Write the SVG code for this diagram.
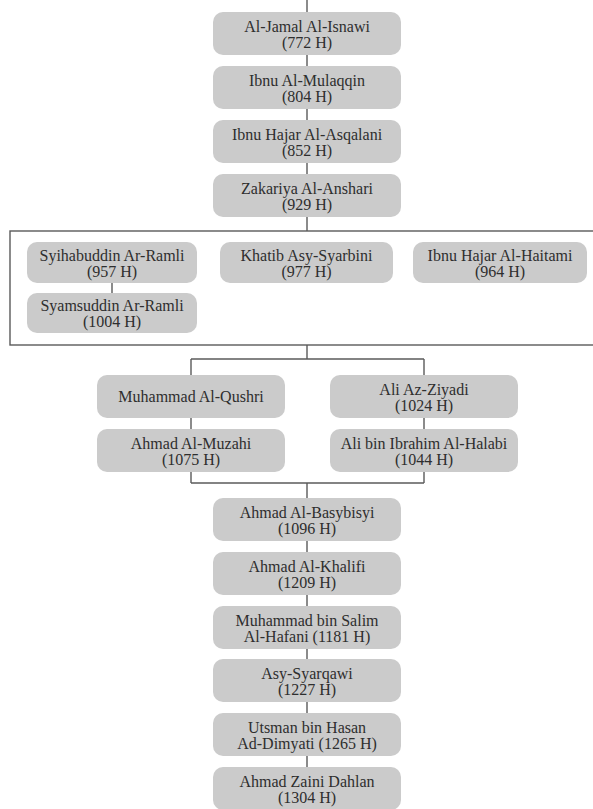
<svg xmlns="http://www.w3.org/2000/svg" width="593" height="809" viewBox="0 0 593 809">
<style>
.n rect{fill:#cbcbcb;stroke:none}
.n text{font-family:"Liberation Serif","Times New Roman",serif;font-size:16px;fill:#2e2e2e;text-anchor:middle}
.c line,.c rect{stroke:#5a5a5a;stroke-width:1.4;fill:none}
</style>
<rect x="0" y="0" width="593" height="809" fill="#ffffff"/>
<g class="c" id="connectors">
<line x1="307" y1="0" x2="307" y2="12"/>
<line x1="307" y1="55" x2="307" y2="66"/>
<line x1="307" y1="109" x2="307" y2="120"/>
<line x1="307" y1="163" x2="307" y2="174"/>
<line x1="307" y1="217" x2="307" y2="231"/>
<rect x="10" y="231" width="600" height="114"/>
<line x1="112" y1="283" x2="112" y2="293"/>
<line x1="307" y1="345" x2="307" y2="359"/>
<line x1="191" y1="359" x2="424" y2="359"/>
<line x1="191" y1="359" x2="191" y2="375"/>
<line x1="424" y1="359" x2="424" y2="375"/>
<line x1="191" y1="418" x2="191" y2="429"/>
<line x1="424" y1="418" x2="424" y2="429"/>
<line x1="191" y1="472" x2="191" y2="483"/>
<line x1="424" y1="472" x2="424" y2="483"/>
<line x1="191" y1="483" x2="424" y2="483"/>
<line x1="307" y1="483" x2="307" y2="498"/>
<line x1="307" y1="541" x2="307" y2="552"/>
<line x1="307" y1="595" x2="307" y2="606"/>
<line x1="307" y1="649" x2="307" y2="659"/>
<line x1="307" y1="702" x2="307" y2="713"/>
<line x1="307" y1="756" x2="307" y2="767"/>
</g>
<g class="n" id="n1"><rect x="213" y="12" width="188" height="43" rx="10"/><text x="307" y="32">Al-Jamal Al-Isnawi<tspan x="307" dy="15.5">(772 H)</tspan></text></g>
<g class="n" id="n2"><rect x="213" y="66" width="188" height="43" rx="10"/><text x="307" y="86">Ibnu Al-Mulaqqin<tspan x="307" dy="15.5">(804 H)</tspan></text></g>
<g class="n" id="n3"><rect x="213" y="120" width="188" height="43" rx="10"/><text x="307" y="140">Ibnu Hajar Al-Asqalani<tspan x="307" dy="15.5">(852 H)</tspan></text></g>
<g class="n" id="n4"><rect x="213" y="174" width="188" height="43" rx="10"/><text x="307" y="194">Zakariya Al-Anshari<tspan x="307" dy="15.5">(929 H)</tspan></text></g>
<g class="n" id="n5"><rect x="27" y="242" width="170" height="41" rx="10"/><text x="112" y="261">Syihabuddin Ar-Ramli<tspan x="112" dy="15.5">(957 H)</tspan></text></g>
<g class="n" id="n6"><rect x="220" y="242" width="173" height="41" rx="10"/><text x="306.5" y="261">Khatib Asy-Syarbini<tspan x="306.5" dy="15.5">(977 H)</tspan></text></g>
<g class="n" id="n7"><rect x="413" y="242" width="174" height="41" rx="10"/><text x="500" y="261">Ibnu Hajar Al-Haitami<tspan x="500" dy="15.5">(964 H)</tspan></text></g>
<g class="n" id="n8"><rect x="27" y="293" width="170" height="40" rx="10"/><text x="112" y="311">Syamsuddin Ar-Ramli<tspan x="112" dy="15.5">(1004 H)</tspan></text></g>
<g class="n" id="n9"><rect x="97" y="375" width="188" height="43" rx="10"/><text x="191" y="402">Muhammad Al-Qushri</text></g>
<g class="n" id="n10"><rect x="330" y="375" width="188" height="43" rx="10"/><text x="424" y="395">Ali Az-Ziyadi<tspan x="424" dy="15.5">(1024 H)</tspan></text></g>
<g class="n" id="n11"><rect x="97" y="429" width="188" height="43" rx="10"/><text x="191" y="449">Ahmad Al-Muzahi<tspan x="191" dy="15.5">(1075 H)</tspan></text></g>
<g class="n" id="n12"><rect x="330" y="429" width="188" height="43" rx="10"/><text x="424" y="449">Ali bin Ibrahim Al-Halabi<tspan x="424" dy="15.5">(1044 H)</tspan></text></g>
<g class="n" id="n13"><rect x="213" y="498" width="188" height="43" rx="10"/><text x="307" y="518">Ahmad Al-Basybisyi<tspan x="307" dy="15.5">(1096 H)</tspan></text></g>
<g class="n" id="n14"><rect x="213" y="552" width="188" height="43" rx="10"/><text x="307" y="572">Ahmad Al-Khalifi<tspan x="307" dy="15.5">(1209 H)</tspan></text></g>
<g class="n" id="n15"><rect x="213" y="606" width="188" height="43" rx="10"/><text x="307" y="626">Muhammad bin Salim<tspan x="307" dy="15.5">Al-Hafani (1181 H)</tspan></text></g>
<g class="n" id="n16"><rect x="213" y="659" width="188" height="43" rx="10"/><text x="307" y="679">Asy-Syarqawi<tspan x="307" dy="15.5">(1227 H)</tspan></text></g>
<g class="n" id="n17"><rect x="213" y="713" width="188" height="43" rx="10"/><text x="307" y="733">Utsman bin Hasan<tspan x="307" dy="15.5">Ad-Dimyati (1265 H)</tspan></text></g>
<g class="n" id="n18"><rect x="213" y="767" width="188" height="43" rx="10"/><text x="307" y="787">Ahmad Zaini Dahlan<tspan x="307" dy="15.5">(1304 H)</tspan></text></g>
</svg>
